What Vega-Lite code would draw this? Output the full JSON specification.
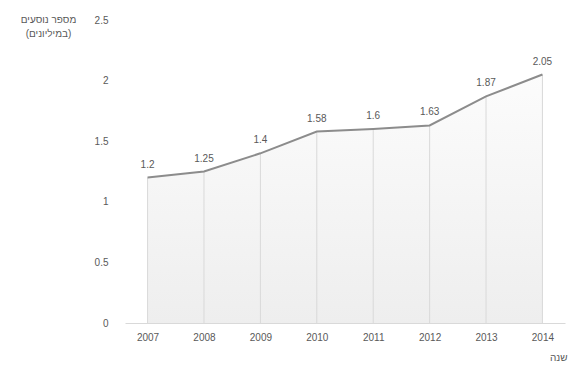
{
  "$schema": "https://vega.github.io/schema/vega-lite/v6.json",
  "autosize": "none",
  "width": 440,
  "height": 303,
  "padding": {"left": 125, "top": 20, "right": 7, "bottom": 61},
  "background": "white",
  "data": {"values": [
    {"year": "2007", "value": 1.2},
    {"year": "2008", "value": 1.25},
    {"year": "2009", "value": 1.4},
    {"year": "2010", "value": 1.58},
    {"year": "2011", "value": 1.6},
    {"year": "2012", "value": 1.63},
    {"year": "2013", "value": 1.87},
    {"year": "2014", "value": 2.05}
  ]},
  "encoding": {
    "x": {"field": "year", "type": "ordinal", "sort": null,
      "scale": {"type": "point", "padding": 0.4},
      "axis": {"title": "שנה", "labelAngle": 0, "ticks": false, "domainColor": "#d9d9d9", "labelPadding": 9,
        "titleX": 442, "titleY": 29, "titleAlign": "right", "titleBaseline": "top", "titleFontWeight": "normal"}},
    "y": {"field": "value", "type": "quantitative",
      "scale": {"domain": [0, 2.5], "nice": false},
      "axis": {"title": ["מספר נוסעים", "(במיליונים)"], "values": [0, 0.5, 1, 1.5, 2, 2.5], "format": "~g", "grid": false, "domain": false, "ticks": false,
        "labelPadding": 17, "titleAngle": 0, "titleX": -77, "titleY": -6, "titleAlign": "center", "titleBaseline": "top", "titleFontWeight": "normal", "titleLineHeight": 14}}
  },
  "layer": [
    {"mark": {"type": "area", "color": {"gradient": "linear", "x1": 0, "y1": 0, "x2": 0, "y2": 1,
        "stops": [{"offset": 0, "color": "#fcfcfc"}, {"offset": 1, "color": "#eeeeee"}]}},
     "encoding": {"y2": {"datum": 0}}},
    {"mark": {"type": "rule", "color": "#d9d9d9", "strokeWidth": 1},
     "encoding": {"y2": {"datum": 0}}},
    {"mark": {"type": "line", "color": "#8c8c8c", "strokeWidth": 2}},
    {"mark": {"type": "text", "dy": -13, "fontSize": 10, "color": "#595959", "font": "Liberation Sans"},
     "encoding": {"text": {"field": "value", "type": "quantitative"}}}
  ],
  "config": {
    "view": {"stroke": null},
    "axis": {"labelFont": "Liberation Sans", "titleFont": "Liberation Sans", "labelFontSize": 10, "titleFontSize": 10,
      "labelColor": "#595959", "titleColor": "#595959"}
  }
}
